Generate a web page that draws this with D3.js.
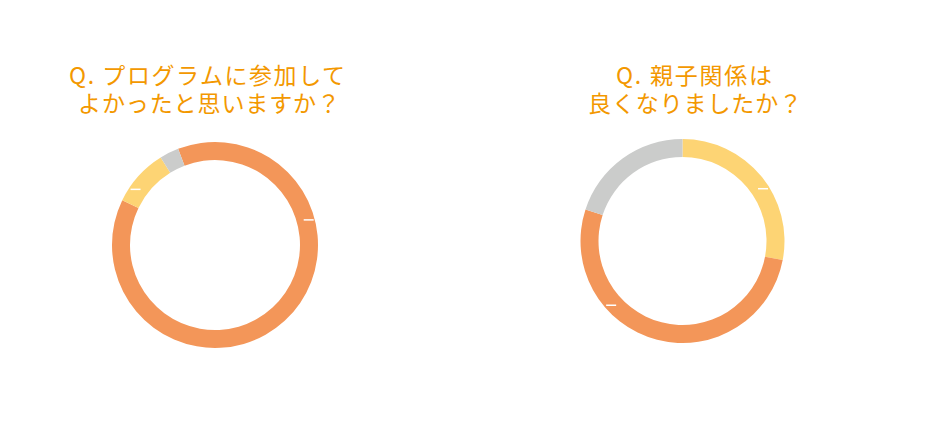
<!DOCTYPE html>
<html>
<head>
<meta charset="utf-8">
<script src="https://cdn.jsdelivr.net/npm/d3@7"></script>
<style>
html,body{margin:0;padding:0;background:#fff;}
svg{display:block;}
text{font-family:"Noto Sans CJK JP","Noto Sans",sans-serif;}
</style>
</head>
<body>
<svg id="chart" width="930" height="434"></svg>
<script>
// ---- data ----
const chart1Title = ["Q. プログラムに参加して", "よかったと思いますか？"];
const chart1Categories = ["orange", "yellow", "grey"];
const chart1Values = [88, 9, 3];
const chart1MarkAngles = [75, 305];

const chart2Title = ["Q. 親子関係は", "良くなりましたか？"];
const chart2Categories = ["yellow", "orange", "grey"];
const chart2Values = [28, 52, 20];
const chart2MarkAngles = [57, 228];

const palette = {orange: "#f39659", yellow: "#fdd474", grey: "#cbcccb"};

const svg = d3.select("#chart");

function drawDonut(cfg) {
  const g = svg.append("g").attr("transform", `translate(${cfg.cx},${cfg.cy})`);
  const pie = d3.pie().sort(null)
    .startAngle(cfg.start * Math.PI / 180)
    .endAngle(cfg.start * Math.PI / 180 + 2 * Math.PI);
  const arcs = pie(cfg.values);
  const arc = d3.arc().innerRadius(cfg.inner).outerRadius(cfg.outer);
  g.selectAll("path.slice").data(arcs).enter().append("path")
    .attr("class", "slice")
    .attr("d", arc)
    .attr("fill", (d, i) => palette[cfg.cats[i]]);
  // small white marks
  const rm = (cfg.inner + cfg.outer) / 2 + 3;
  g.selectAll("line.mk").data(cfg.marks).enter().append("line")
    .attr("class", "mk")
    .attr("x1", a => rm * Math.sin(a * Math.PI / 180) - 5)
    .attr("x2", a => rm * Math.sin(a * Math.PI / 180) + 5)
    .attr("y1", a => -rm * Math.cos(a * Math.PI / 180))
    .attr("y2", a => -rm * Math.cos(a * Math.PI / 180))
    .attr("stroke", "#fff").attr("stroke-width", 1.5);
  cfg.title.forEach((s, i) => {
    svg.append("text")
      .attr("x", cfg.tx[i]).attr("y", cfg.ty + i * 28)
      .attr("text-anchor", "middle")
      .attr("fill", "#f39800")
      .attr("font-size", 23)
      .attr("textLength", cfg.tw[i])
      .attr("lengthAdjust", "spacing")
      .text(s);
  });
}

drawDonut({cx: 215, cy: 245, inner: 85, outer: 103, start: -21,
  values: chart1Values, cats: chart1Categories, marks: chart1MarkAngles,
  title: chart1Title, tx: [207, 209], ty: 84, tw: [276, 262]});
drawDonut({cx: 682.5, cy: 241, inner: 84, outer: 102, start: 0,
  values: chart2Values, cats: chart2Categories, marks: chart2MarkAngles,
  title: chart2Title, tx: [694, 695], ty: 84, tw: [156, 214]});
</script>
</body>
</html>
